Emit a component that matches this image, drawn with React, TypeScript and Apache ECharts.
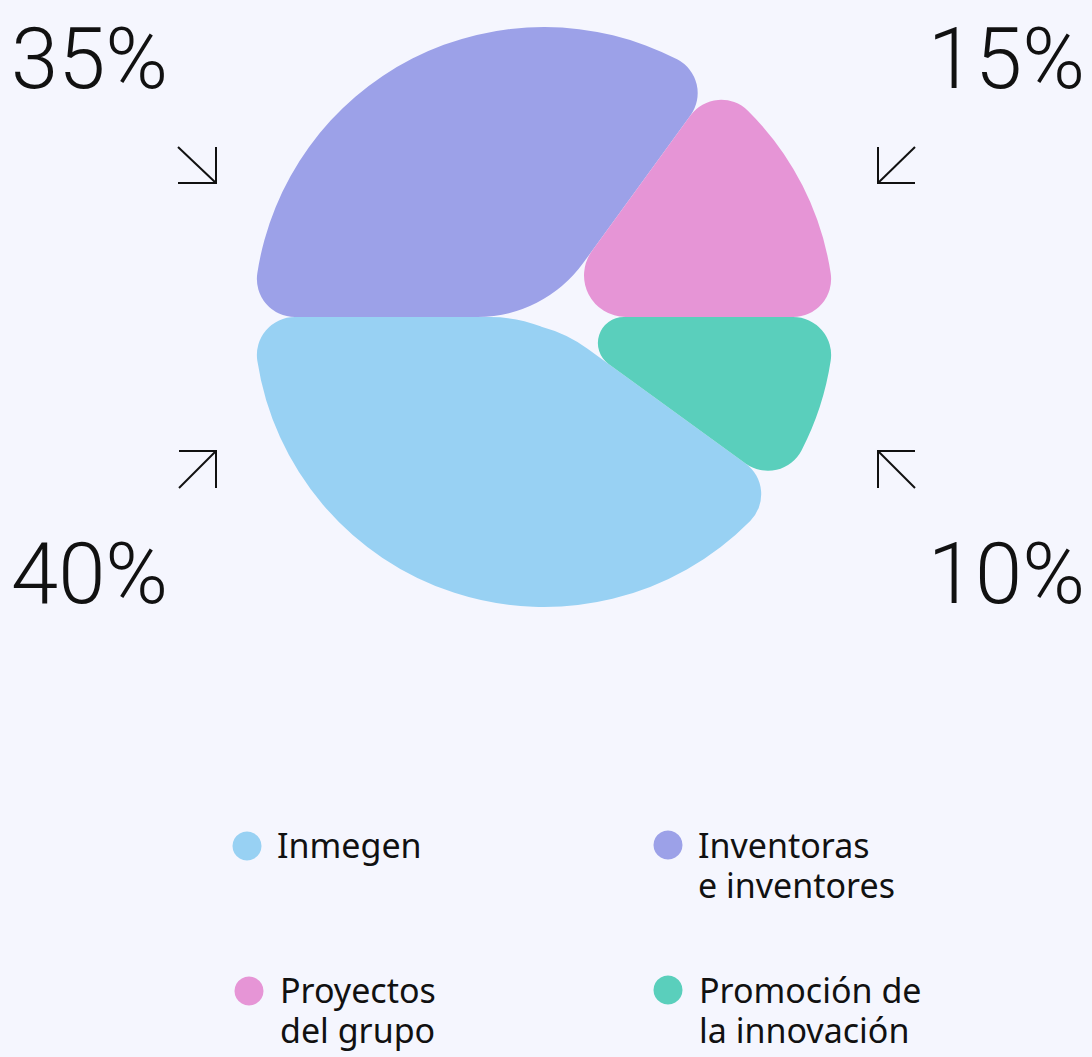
import React, { useEffect, useRef } from "react";
import * as echarts from "echarts";

// ---- data ----
const categories = [
  "Inmegen",
  "Inventoras e inventores",
  "Proyectos del grupo",
  "Promoción de la innovación",
];
const legendLines = [
  ["Inmegen"],
  ["Inventoras", "e inventores"],
  ["Proyectos", "del grupo"],
  ["Promoción de", "la innovación"],
];
const shares = [40, 35, 15, 10];
const percentLabels = ["40%", "35%", "15%", "10%"];
const colors = ["#98d1f3", "#9ca1e8", "#e695d6", "#5acfbc"];

const BG = "#f5f6fe";
const INK = "#111111";

function pieData(visibleIndex: number) {
  return categories.map((name, i) => ({
    name,
    value: shares[i],
    itemStyle: {
      color: i === visibleIndex ? colors[i] : "rgba(0,0,0,0)",
    },
  }));
}

function buildOption(): echarts.EChartsCoreOption {
  const center = [544, 317];
  const outerR = 290;
  // per-slice tip softness (inner radius, inner corner radius)
  const tip = [
    { r0: 10, cr: 150 },
    { r0: 16, cr: 150 },
    { r0: 50, cr: 60 },
    { r0: 58, cr: 60 },
  ];

  const pctPos = [
    { x: 11, y: 574, align: "left" },
    { x: 11, y: 59, align: "left" },
    { x: 1085, y: 59, align: "right" },
    { x: 1085, y: 574, align: "right" },
  ];

  const arrows = [
    // 40% ↗
    { diag: [[179, 488], [216, 451]], head: [[179, 451], [216, 451], [216, 488]] },
    // 35% ↘
    { diag: [[178, 147], [216, 183]], head: [[216, 147], [216, 183], [178, 183]] },
    // 15% ↙
    { diag: [[915, 147], [878, 183]], head: [[878, 147], [878, 183], [915, 183]] },
    // 10% ↖
    { diag: [[915, 488], [878, 451]], head: [[915, 451], [878, 451], [878, 488]] },
  ];

  const legendPos = [
    { cx: 247, cy: 846, tx: 277, ty: 845 },
    { cx: 668, cy: 845, tx: 698, ty: 845 },
    { cx: 249, cy: 991, tx: 280, ty: 990 },
    { cx: 668, cy: 990, tx: 699, ty: 990 },
  ];

  const graphic: any[] = [];
  percentLabels.forEach((t, i) => {
    const p = pctPos[i];
    graphic.push({
      type: "text",
      x: p.x,
      y: p.y,
      silent: true,
      style: {
        text: t,
        fill: INK,
        font: '300 85px Roboto, Inter, sans-serif',
        align: p.align,
        verticalAlign: "middle",
      },
    });
  });
  arrows.forEach((a) => {
    graphic.push({
      type: "polyline",
      silent: true,
      shape: { points: a.diag },
      style: { stroke: INK, lineWidth: 2, fill: null },
    });
    graphic.push({
      type: "polyline",
      silent: true,
      shape: { points: a.head },
      style: { stroke: INK, lineWidth: 2, fill: null },
    });
  });
  categories.forEach((_, i) => {
    const p = legendPos[i];
    graphic.push({
      type: "circle",
      silent: true,
      shape: { cx: p.cx, cy: p.cy, r: 14.5 },
      style: { fill: colors[i] },
    });
    graphic.push({
      type: "text",
      x: p.tx,
      y: p.ty - 20,
      silent: true,
      style: {
        text: legendLines[i].join("\n"),
        fill: INK,
        font: '400 34px "Noto Sans", sans-serif',
        lineHeight: 40,
        align: "left",
        verticalAlign: "top",
      },
    });
  });

  const series = categories.map((name, i) => ({
    type: "pie",
    name,
    center,
    radius: [tip[i].r0, outerR],
    startAngle: 324,
    clockwise: true,
    silent: true,
    label: { show: false },
    labelLine: { show: false },
    emphasis: { disabled: true },
    avoidLabelOverlap: false,
    itemStyle: { borderRadius: [tip[i].cr, 38] },
    data: pieData(i),
  }));

  return {
    animation: false,
    backgroundColor: BG,
    graphic,
    series,
  };
}

export default function App() {
  const ref = useRef<HTMLDivElement>(null);
  useEffect(() => {
    document.body.style.margin = "0";
    document.body.style.background = BG;
    if (!ref.current) return;
    const chart = echarts.init(ref.current, undefined, { renderer: "svg" });
    chart.setOption(buildOption());
    return () => chart.dispose();
  }, []);
  return (
    <div
      ref={ref}
      style={{ position: "fixed", left: 0, top: 0, width: "1092px", height: "1057px" }}
    />
  );
}
